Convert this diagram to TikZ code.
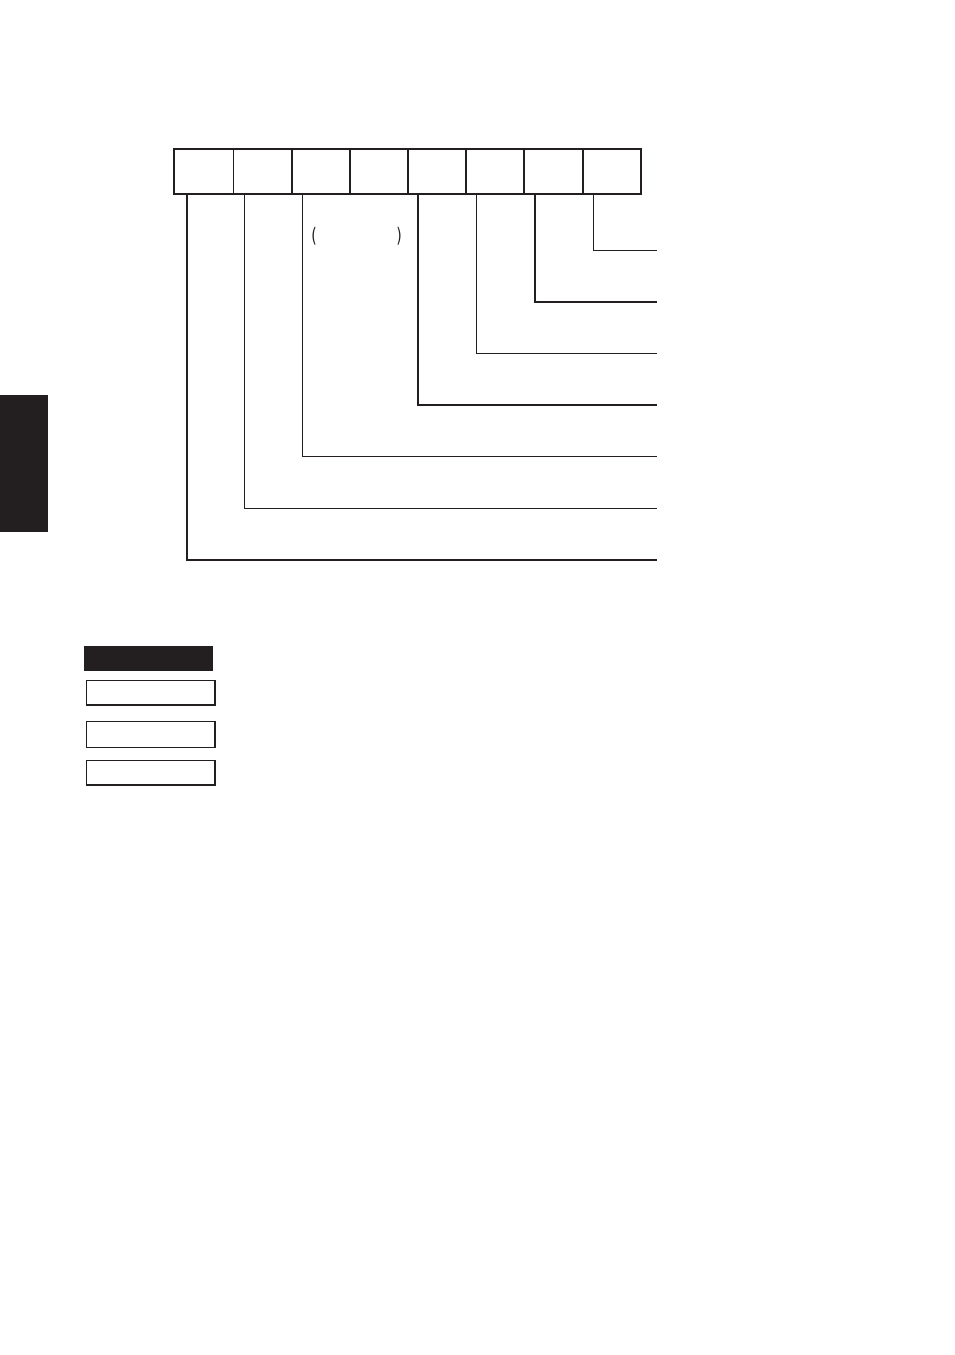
\documentclass[tikz,border=0pt]{standalone}
\usepackage{fontspec}
\setmainfont{DejaVu Sans}
\definecolor{ink}{HTML}{231F20}
\begin{document}
\begin{tikzpicture}[x=1pt,y=-1pt,
  cell/.style={draw=ink,line width=1.5pt},
  lead/.style={draw=ink,line width=1.5pt},
  leadthick/.style={draw=ink,line width=2pt},
  legendbox/.style={draw=ink,line width=1.6pt,fill=white},
  paren/.style={inner sep=0pt,font=\fontsize{20}{20}\selectfont\addfontfeatures{FakeStretch=0.7},text=ink}]
\useasboundingbox (0,0) rectangle (954,1355);
% side tab
\fill[ink] (0,395) rectangle (48,532);
% register cells
\foreach \i/\a/\b in {1/173.3/232.7,2/232.7/291.3,3/291.3/349.3,4/349.3/407.3,5/407.3/465.3,6/465.3/523.3,7/523.3/582,8/582/640}
  \node[cell,minimum width={\b-\a},minimum height=45,inner sep=0pt,anchor=north west] (c\i) at (\a,148.3) {};
% end coordinates
\coordinate (e1) at (656.7,560);
\coordinate (e2) at (656.7,508.3);
\coordinate (e3) at (656.7,456.7);
\coordinate (e4) at (656.7,404.7);
\coordinate (e5) at (656.7,353.3);
\coordinate (e6) at (656.7,301.7);
\coordinate (e7) at (656.7,250.3);
% leads
\draw[leadthick] (186.7,193.3) |- (e1);
\draw[lead] (244.3,193.3) |- (e2);
\draw[lead] (302.7,193.3) |- (e3);
\draw[leadthick] (418.3,193.3) |- (e4);
\draw[lead] (476.7,193.3) |- (e5);
\draw[leadthick] (535,193.3) |- (e6);
\draw[lead] (593.3,193.3) |- (e7);
% parentheses
\node[paren] (pl) at (314.2,236) {(};
\node[paren] (pr) at (399.2,236) {)};
% legend
\fill[ink] (84,646) rectangle (212.7,670.7);
\node[legendbox,minimum width=128.5,minimum height=24.5,inner sep=0pt,anchor=north west] (l1) at (85.5,679.5) {};
\node[legendbox,minimum width=128.5,minimum height=26,inner sep=0pt,anchor=north west] (l2) at (85.5,720.5) {};
\node[legendbox,minimum width=128.5,minimum height=24.5,inner sep=0pt,anchor=north west] (l3) at (85.5,759.5) {};
\end{tikzpicture}
\end{document}
